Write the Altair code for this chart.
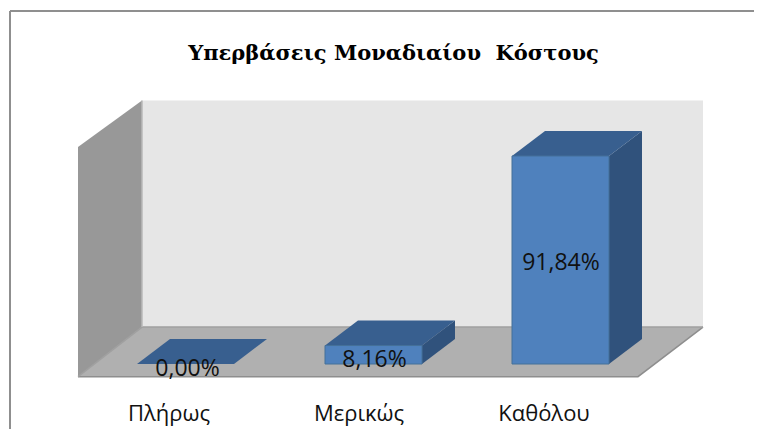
import altair as alt
import pandas as pd

# --- chart values ---
title_text = "Υπερβάσεις Μοναδιαίου\u00a0 Κόστους"
categories = ["Πλήρως", "Μερικώς", "Καθόλου"]
values = [0.00, 8.16, 91.84]
value_labels = ["0,00%", "8,16%", "91,84%"]
axis_max = 100

# --- 3D-box layout in scale units (x: page px, y: percent) ---
px_per_pct = 2.265
zero_y_page = 364
bar_left = [137, 325, 512]
bar_width = 97
bar_dx, bar_dy = 33, 25 / px_per_pct
label_x = [187.5, 374.5, 561]
label_y = [-2.0, 1.8, 44.5]
cat_x = [169, 359, 544]
cat_y = -21.9
wall_left, wall_back, wall_right = 78, 142, 703
floor_right = 638
floor_front, floor_back = -5.6, 16.3
wall_top = floor_back + axis_max
wall_front_top = floor_front + axis_max + 1.4

page_top, page_bottom = 8, 430
page_left, page_right = 8, 755
x_scale = alt.Scale(domain=[page_left, page_right], nice=False, zero=False)
y_scale = alt.Scale(domain=[(zero_y_page - page_bottom) / px_per_pct, (zero_y_page - page_top) / px_per_pct],
                    nice=False, zero=False)
X = lambda f: alt.X(f, type="quantitative", scale=x_scale, axis=None)
Y = lambda f: alt.Y(f, type="quantitative", scale=y_scale, axis=None)

# walls
side_wall = pd.DataFrame({"x": [wall_left, wall_back],
                          "y": [wall_front_top, wall_top],
                          "y2": [floor_front, floor_back]})
back_wall = pd.DataFrame({"x": [wall_back], "x2": [wall_right],
                          "y": [wall_top], "y2": [floor_back]})
floor = pd.DataFrame({"y": [floor_front, floor_back],
                      "x": [wall_left, wall_back],
                      "x2": [floor_right, wall_right]})

# bar faces
tops, sides, fronts = [], [], []
for c, v, l in zip(categories, values, bar_left):
    r = l + bar_width
    tops += [{"c": c, "y": v, "x": l, "x2": r},
             {"c": c, "y": v + bar_dy, "x": l + bar_dx, "x2": r + bar_dx}]
    if v > 0:
        sides += [{"c": c, "x": r, "y": v, "y2": 0},
                  {"c": c, "x": r + bar_dx, "y": v + bar_dy, "y2": bar_dy}]
        fronts.append({"c": c, "x": l, "x2": r, "y": v, "y2": 0})
tops, sides, fronts = map(pd.DataFrame, (tops, sides, fronts))

labels = pd.DataFrame({"x": label_x, "y": label_y, "t": value_labels})
cats = pd.DataFrame({"x": cat_x, "y": [cat_y] * 3, "t": categories})
title_df = pd.DataFrame({"x": [393.5], "y": [(zero_y_page - 54) / px_per_pct], "t": [title_text]})

frame_top = pd.DataFrame({"x": [10], "x2": [page_right - 1], "y": [(zero_y_page - 11) / px_per_pct]})
frame_left = pd.DataFrame({"x": [10], "y": [(zero_y_page - 11) / px_per_pct],
                           "y2": [(zero_y_page - page_bottom + 1) / px_per_pct]})

edge_floor = pd.DataFrame({"x": [wall_left, floor_right, wall_right],
                           "y": [floor_front, floor_front, floor_back]})
edge_back = pd.DataFrame({"x": [wall_left, wall_back, wall_right],
                          "y": [floor_front, floor_back, floor_back]})
edge_corner = pd.DataFrame({"x": [wall_back], "y": [wall_top], "y2": [floor_back]})

layers = [
    alt.Chart(frame_top).mark_rule(color="#8f8f8f", strokeWidth=2).encode(x=X("x"), x2="x2", y=Y("y")),
    alt.Chart(frame_left).mark_rule(color="#8f8f8f", strokeWidth=2).encode(x=X("x"), y=Y("y"), y2="y2"),
    alt.Chart(back_wall).mark_rect(color="#e6e6e6").encode(x=X("x"), x2="x2", y=Y("y"), y2="y2"),
    alt.Chart(side_wall).mark_area(color="#989898", opacity=1).encode(x=X("x"), y=Y("y"), y2="y2"),
    alt.Chart(floor).mark_area(color="#b0b0b0", opacity=1, orient="horizontal").encode(y=Y("y"), x=X("x"), x2="x2"),
    alt.Chart(edge_floor).mark_line(color="#8e8e8e", strokeWidth=1.5).encode(x=X("x"), y=Y("y")),
    alt.Chart(edge_back).mark_line(color="#a0a0a0", strokeWidth=1.5).encode(x=X("x"), y=Y("y")),
    alt.Chart(edge_corner).mark_rule(color="#b8b8b8", strokeWidth=1.5).encode(x=X("x"), y=Y("y"), y2="y2"),
    alt.Chart(sides).mark_area(color="#30527c", opacity=1).encode(x=X("x"), y=Y("y"), y2="y2", detail="c:N"),
    alt.Chart(tops).mark_area(color="#385f8f", opacity=1, orient="horizontal").encode(y=Y("y"), x=X("x"), x2="x2", detail="c:N"),
    alt.Chart(fronts).mark_rect(color="#4f81bd", stroke="#457099", strokeWidth=1).encode(x=X("x"), x2="x2", y=Y("y"), y2="y2"),
    alt.Chart(labels).mark_text(font="Open Sans", fontSize=23, color="#111111", align="center", baseline="middle").encode(x=X("x"), y=Y("y"), text="t:N"),
    alt.Chart(cats).mark_text(font="Open Sans", fontSize=22, color="#111111", align="center", baseline="middle").encode(x=X("x"), y=Y("y"), text="t:N"),
    alt.Chart(title_df).mark_text(font="DejaVu Serif", fontSize=21, fontWeight="bold", color="#000000", align="center", baseline="middle").encode(x=X("x"), y=Y("y"), text="t:N"),
]

chart = alt.layer(*layers).properties(width=page_right - page_left, height=page_bottom - page_top, padding=0, background="white").configure_view(stroke=None)
chart.save("out.html", embed_options={"renderer": "svg", "actions": False})
